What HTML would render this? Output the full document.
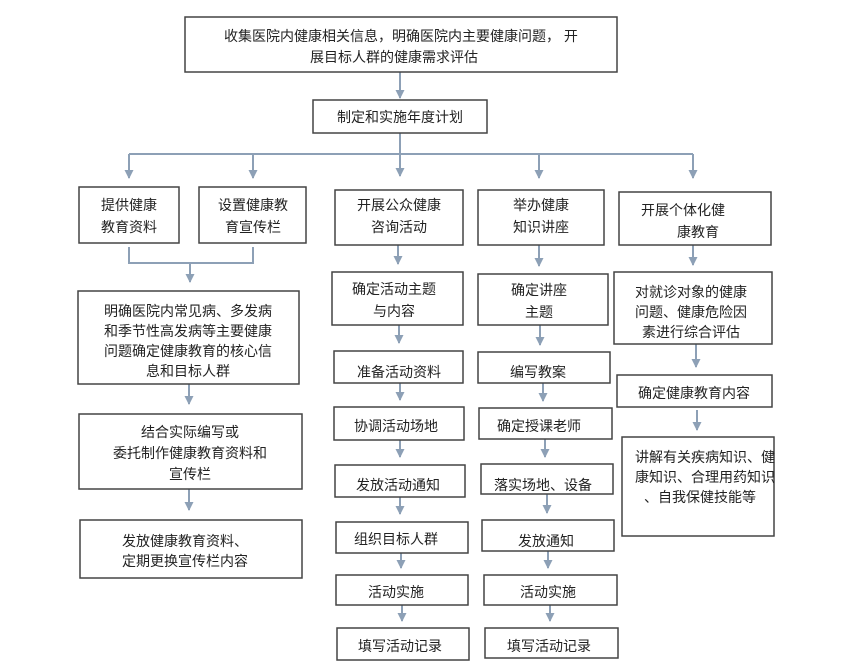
<!DOCTYPE html>
<html><head><meta charset="utf-8"><style>
html,body{margin:0;padding:0;background:#fff}
svg{display:block}
text{font-family:"Liberation Sans","Noto Sans CJK SC",sans-serif;font-size:14px;fill:#222;text-anchor:middle}
rect{fill:#fff;stroke:#444;stroke-width:1.5}
.l{stroke:#8da0b6;stroke-width:2;fill:none}
</style></head><body>
<svg width="866" height="666" viewBox="0 0 866 666">
<defs><marker id="m" markerWidth="10" markerHeight="10" refX="8" refY="4.5" orient="auto" markerUnits="userSpaceOnUse"><path d="M0,0 L9,4.5 L0,9 z" fill="#8da0b6"/></marker></defs>
<g class="l" marker-end="url(#m)">
<path d="M400,72 V98"/>
<path d="M400,133 V176"/>
<path d="M129,154 V178"/>
<path d="M253,154 V178"/>
<path d="M539,154 V178"/>
<path d="M693,154 V178"/>
<path d="M190,263 V282"/>
<path d="M189,384 V404"/>
<path d="M189,489 V510"/>
<path d="M398,245 V264"/>
<path d="M399,325 V343"/>
<path d="M400,383 V400"/>
<path d="M400,440 V457"/>
<path d="M400,497 V514"/>
<path d="M401,553 V568"/>
<path d="M402,605 V621"/>
<path d="M539,245 V266"/>
<path d="M540,325 V345"/>
<path d="M543,383 V401"/>
<path d="M545,439 V457"/>
<path d="M547,494 V513"/>
<path d="M548,551 V568"/>
<path d="M550,605 V621"/>
<path d="M693,245 V265"/>
<path d="M696,344 V367"/>
<path d="M697,410 V430"/>
</g>
<path class="l" d="M129,154 H693"/>
<path class="l" d="M129,247 V263 H253 V247"/>
<rect x="185" y="17" width="432" height="55"/>
<text x="401" y="41">收集医院内健康相关信息，明确医院内主要健康问题， 开</text>
<text x="394" y="62">展目标人群的健康需求评估</text>
<rect x="313" y="100" width="174" height="33"/>
<text x="400" y="122">制定和实施年度计划</text>
<rect x="79" y="187" width="100" height="56"/>
<text x="129" y="210">提供健康</text><text x="129" y="232">教育资料</text>
<rect x="199" y="187" width="107" height="56"/>
<text x="253" y="210">设置健康教</text><text x="253" y="232">育宣传栏</text>
<rect x="335" y="190" width="128" height="55"/>
<text x="399" y="210">开展公众健康</text><text x="399" y="232">咨询活动</text>
<rect x="478" y="190" width="126" height="55"/>
<text x="541" y="210">举办健康</text><text x="541" y="232">知识讲座</text>
<rect x="619" y="192" width="152" height="53"/>
<text x="683" y="215">开展个体化健</text><text x="698" y="237">康教育</text>
<rect x="78" y="291" width="221" height="93"/>
<text x="188" y="316">明确医院内常见病、多发病</text>
<text x="188" y="336">和季节性高发病等主要健康</text>
<text x="188" y="356">问题确定健康教育的核心信</text>
<text x="188" y="376">息和目标人群</text>
<rect x="79" y="414" width="223" height="75"/>
<text x="190" y="437">结合实际编写或</text>
<text x="190" y="458">委托制作健康教育资料和</text>
<text x="190" y="479">宣传栏</text>
<rect x="80" y="520" width="222" height="58"/>
<text x="185" y="546">发放健康教育资料、</text>
<text x="185" y="566">定期更换宣传栏内容</text>
<rect x="332" y="272" width="131" height="53"/>
<text x="394" y="294">确定活动主题</text><text x="394" y="316">与内容</text>
<rect x="334" y="351" width="129" height="32"/>
<text x="399" y="377">准备活动资料</text>
<rect x="334" y="407" width="130" height="33"/>
<text x="396" y="431">协调活动场地</text>
<rect x="335" y="465" width="130" height="32"/>
<text x="398" y="490">发放活动通知</text>
<rect x="336" y="522" width="132" height="31"/>
<text x="396" y="544">组织目标人群</text>
<rect x="336" y="575" width="132" height="30"/>
<text x="396" y="597">活动实施</text>
<rect x="337" y="628" width="132" height="32"/>
<text x="400" y="651">填写活动记录</text>
<rect x="478" y="274" width="130" height="51"/>
<text x="539" y="295">确定讲座</text><text x="539" y="317">主题</text>
<rect x="478" y="352" width="132" height="31"/>
<text x="538" y="377">编写教案</text>
<rect x="479" y="408" width="133" height="31"/>
<text x="539" y="431">确定授课老师</text>
<rect x="481" y="464" width="132" height="30"/>
<text x="543" y="490">落实场地、设备</text>
<rect x="482" y="520" width="132" height="31"/>
<text x="546" y="546">发放通知</text>
<rect x="484" y="575" width="133" height="30"/>
<text x="548" y="597">活动实施</text>
<rect x="485" y="628" width="133" height="30"/>
<text x="549" y="651">填写活动记录</text>
<rect x="614" y="272" width="158" height="72"/>
<text x="691" y="297">对就诊对象的健康</text>
<text x="691" y="317">问题、健康危险因</text>
<text x="691" y="337">素进行综合评估</text>
<rect x="617" y="375" width="155" height="32"/>
<text x="694" y="398">确定健康教育内容</text>
<rect x="622" y="437" width="152" height="99"/>
<text x="705" y="462">讲解有关疾病知识、健</text>
<text x="705" y="482">康知识、合理用药知识</text>
<text x="700" y="502">、自我保健技能等</text>
</svg>
</body></html>
